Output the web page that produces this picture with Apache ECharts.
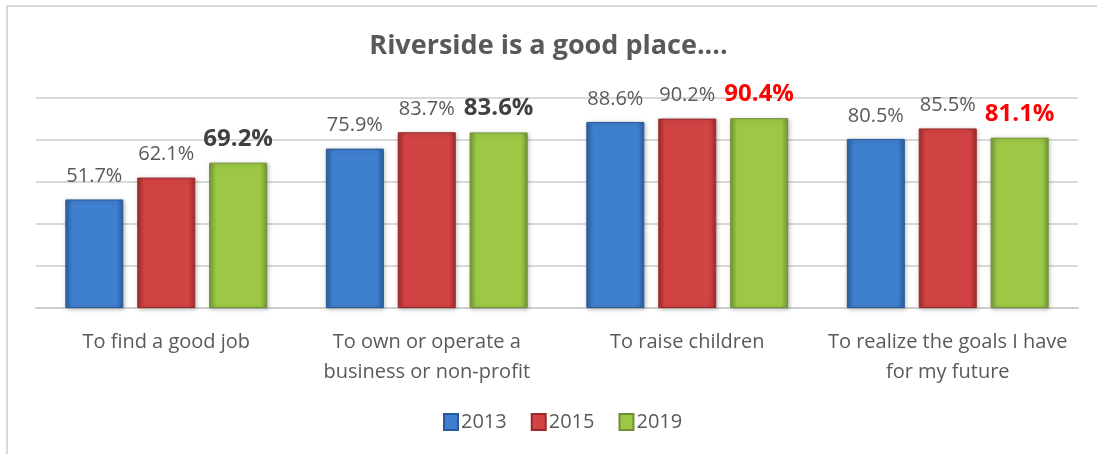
<!DOCTYPE html>
<html>
<head>
<meta charset="utf-8">
<script src="https://cdn.jsdelivr.net/npm/echarts@6/dist/echarts.min.js"></script>
<style>
  html, body { margin: 0; padding: 0; background: #fff; }
  #main { width: 1097px; height: 454px; }
</style>
</head>
<body>
<div id="main"></div>
<script>
var categories = ['To find a good job', 'To own or operate a\nbusiness or non-profit', 'To raise children', 'To realize the goals I have\nfor my future'];
var years = ['2013', '2015', '2019'];
var v2013 = [51.7, 75.9, 88.6, 80.5];
var v2015 = [62.1, 83.7, 90.2, 85.5];
var v2019 = [69.2, 83.6, 90.4, 81.1];
// colour of the bold 2019 labels
var labelColors2019 = ['#404040', '#404040', '#ff0000', '#ff0000'];

var font = '"Open Sans", "Liberation Sans", sans-serif';

function barGrad(edge, mid) {
    return new echarts.graphic.LinearGradient(0, 0, 1, 0, [
        { offset: 0, color: edge },
        { offset: 0.12, color: mid },
        { offset: 0.88, color: mid },
        { offset: 1, color: edge }
    ]);
}

var myChart = echarts.init(document.getElementById('main'));
var option = {
    backgroundColor: '#fff',
    textStyle: { fontFamily: font },
    title: {
        text: 'Riverside is a good place....',
        left: 'center',
        top: 28,
        textStyle: { fontSize: 27, fontWeight: 'bold', color: '#595959', fontFamily: font }
    },
    graphic: [{
        type: 'polyline',
        shape: { points: [[7, 460], [7, 6], [1100, 6]] },
        style: { stroke: '#d9d9d9', lineWidth: 2, fill: null },
        silent: true
    }],
    legend: {
        bottom: 17,
        left: 438,
        itemWidth: 14,
        itemHeight: 16,
        itemGap: 24,
        icon: 'rect',
        textStyle: { fontSize: 20, color: '#595959', fontFamily: font, padding: [0, 0, 0, -2] },
        data: years
    },
    grid: { left: 36, right: 19, top: 98, bottom: 146 },
    xAxis: {
        type: 'category',
        data: categories,
        axisLine: { lineStyle: { color: '#cfcfcf', width: 2 } },
        axisTick: { show: false },
        axisLabel: { fontSize: 20, color: '#595959', margin: 19, lineHeight: 30, interval: 0, fontFamily: font }
    },
    yAxis: {
        type: 'value',
        min: 0,
        max: 100,
        interval: 20,
        axisLabel: { show: false },
        axisLine: { show: false },
        axisTick: { show: false },
        splitLine: { lineStyle: { color: '#d9d9d9', width: 2 } }
    },
    series: [{
        name: '2013',
        type: 'bar',
        data: v2013,
        barWidth: 58,
        barGap: '24%',
        color: '#3b78c6',
        itemStyle: {
            color: barGrad('#2c5f9f', '#3f7fcf'),
            borderColor: '#2a5a96',
            borderWidth: 1,
            shadowColor: 'rgba(0,0,0,0.25)',
            shadowBlur: 4,
            shadowOffsetX: 1,
            shadowOffsetY: 1
        },
        label: { show: true, position: 'top', distance: 13, formatter: '{c}%', fontSize: 20, color: '#595959', fontFamily: font }
    }, {
        name: '2015',
        type: 'bar',
        data: v2015,
        barWidth: 58,
        barGap: '24%',
        color: '#c93a3a',
        itemStyle: {
            color: barGrad('#a22c2c', '#d24343'),
            borderColor: '#9a2a2a',
            borderWidth: 1,
            shadowColor: 'rgba(0,0,0,0.25)',
            shadowBlur: 4,
            shadowOffsetX: 1,
            shadowOffsetY: 1
        },
        label: { show: true, position: 'top', distance: 13, formatter: '{c}%', fontSize: 20, color: '#595959', fontFamily: font }
    }, {
        name: '2019',
        type: 'bar',
        data: v2019.map(function (v, i) {
            return { value: v, label: { color: labelColors2019[i] } };
        }),
        barWidth: 58,
        barGap: '24%',
        color: '#93bd3f',
        itemStyle: {
            color: barGrad('#76993a', '#9cc845'),
            borderColor: '#6f9034',
            borderWidth: 1,
            shadowColor: 'rgba(0,0,0,0.25)',
            shadowBlur: 4,
            shadowOffsetX: 1,
            shadowOffsetY: 1
        },
        label: { show: true, position: 'top', distance: 12, formatter: '{c}%', fontSize: 24, fontWeight: 'bold', fontFamily: font }
    }]
};
myChart.setOption(option);
</script>
</body>
</html>
